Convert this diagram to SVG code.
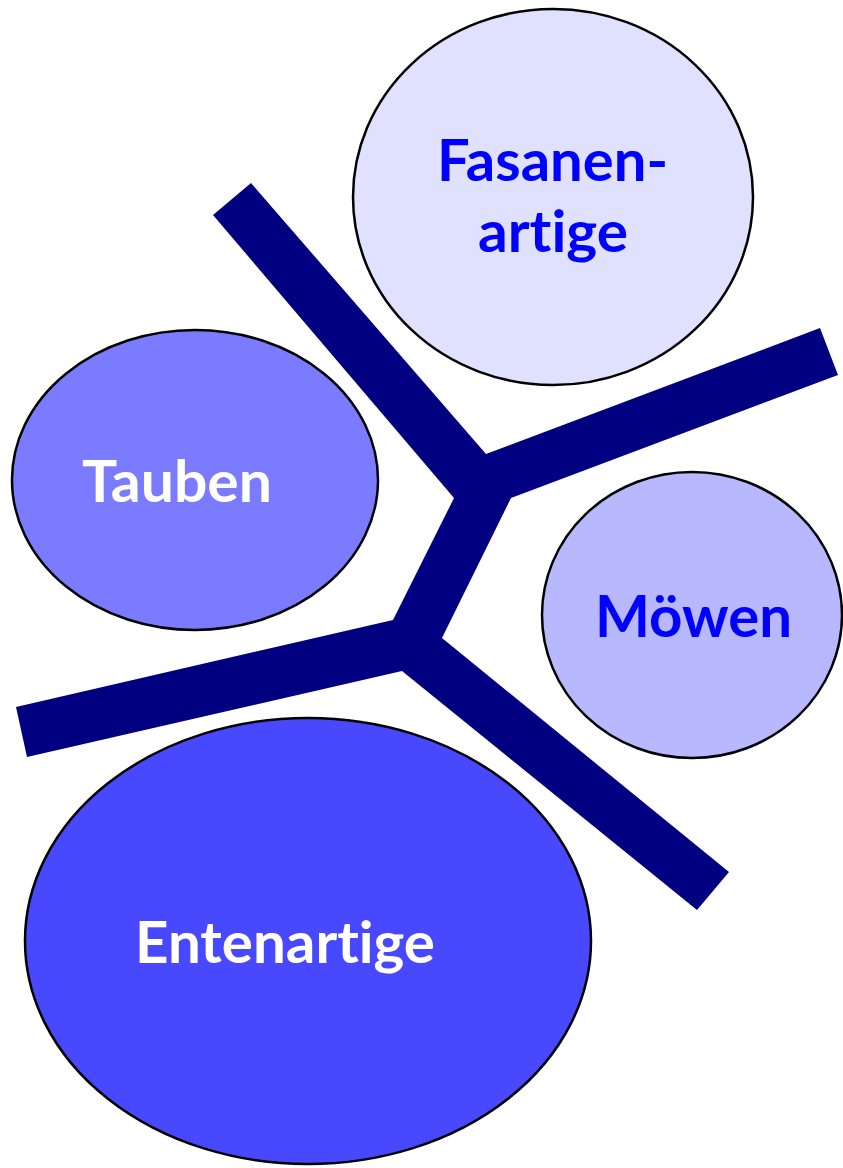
<svg xmlns="http://www.w3.org/2000/svg" width="843" height="1168" viewBox="0 0 843 1168">
  <style>
    .node ellipse { stroke: #000000; stroke-width: 2.5; }
    .lbl { font-family: Lato, "Open Sans", "Liberation Sans", sans-serif; font-weight: bold; font-size: 58px; font-variant-ligatures: none; font-feature-settings: "liga" 0; }
    .blue { fill: #0000FF; }
    .white { fill: #FFFFFF; }
  </style>
  <rect width="843" height="1168" fill="#FFFFFF"/>
  <g id="connectors">
    <polygon fill="#000080" points="213,215 251,183 486,454 820,328 838,375 511,498 442,638 729,872 697,910 402,671 27,757 16,707 393,620 454,498"/>
  </g>
  <g id="fasanenartige" class="node">
    <ellipse cx="553" cy="197" rx="200" ry="188" fill="#E0E0FF"/>
    <text class="lbl blue" x="437" y="181" textLength="231" lengthAdjust="spacingAndGlyphs">Fasanen-</text>
    <text class="lbl blue" x="478" y="252" textLength="150" lengthAdjust="spacingAndGlyphs">artige</text>
  </g>
  <g id="tauben" class="node">
    <ellipse cx="195" cy="480" rx="183" ry="150" fill="#7B7BFF"/>
    <text class="lbl white" x="82" y="502" textLength="190" lengthAdjust="spacingAndGlyphs">Tauben</text>
  </g>
  <g id="moewen" class="node">
    <ellipse cx="692" cy="615" rx="150" ry="143" fill="#B8B8FF"/>
    <text class="lbl blue" x="595" y="637" textLength="197" lengthAdjust="spacingAndGlyphs">Möwen</text>
  </g>
  <g id="entenartige" class="node">
    <ellipse cx="308" cy="941" rx="283" ry="223" fill="#4848FF"/>
    <text class="lbl white" x="135" y="963" textLength="300" lengthAdjust="spacingAndGlyphs">Entenartige</text>
  </g>
</svg>
